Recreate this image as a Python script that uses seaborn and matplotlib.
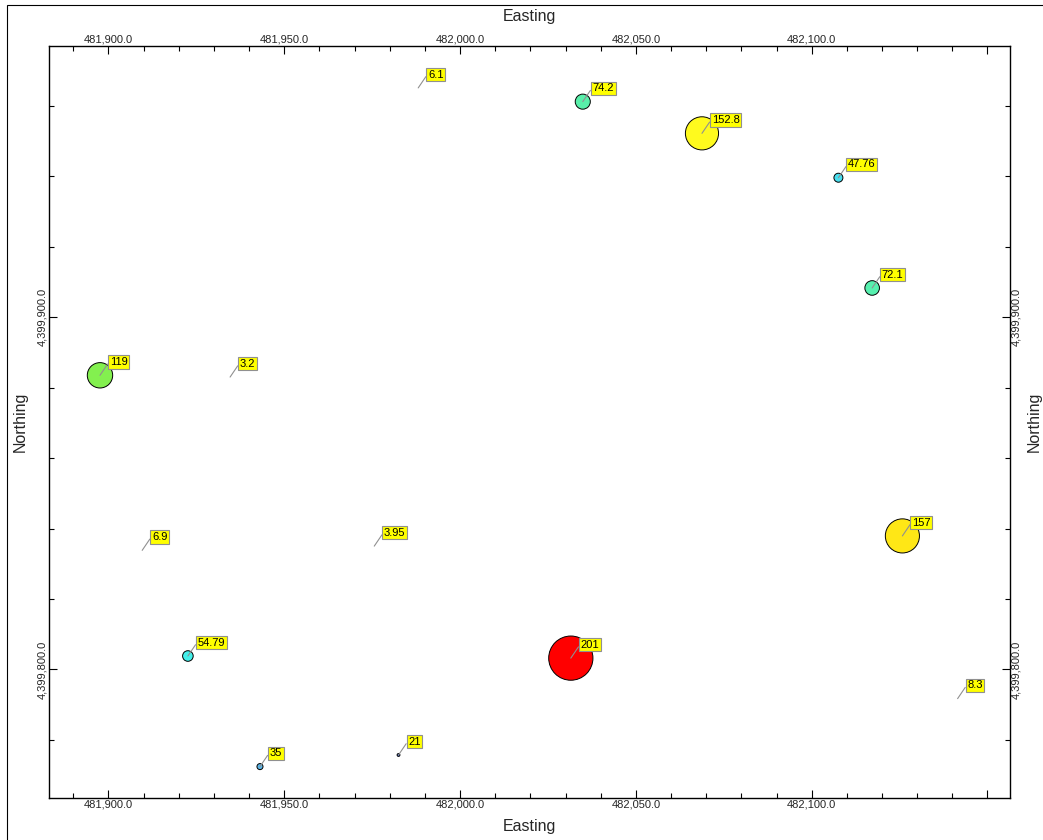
import numpy as np
import pandas as pd
import matplotlib
matplotlib.use("Agg")
import matplotlib.pyplot as plt
from matplotlib.colors import LinearSegmentedColormap
from matplotlib.patches import Rectangle
from matplotlib.ticker import MultipleLocator, FuncFormatter
import seaborn as sns

# sample locations (m) and measured values
easting = [481988.1, 482034.9, 482068.8, 482107.6, 482117.2, 481897.6, 481934.6, 481909.6,
           481975.6, 482125.8, 481922.6, 482031.5, 482141.5, 481943.1, 481982.5]
northing = [4399965.1, 4399961.2, 4399952.2, 4399939.6, 4399908.3, 4399883.5, 4399883.0, 4399833.8,
            4399835.0, 4399837.9, 4399803.8, 4399803.2, 4399791.7, 4399772.4, 4399775.7]
values = [6.1, 74.2, 152.8, 47.76, 72.1, 119, 3.2, 6.9,
          3.95, 157, 54.79, 201, 8.3, 35, 21]

x_range = (481883.1, 482156.4)
y_range = (4399763.4, 4399977.0)

DPI = 100
df = pd.DataFrame({"easting": easting, "northing": northing, "value": values})

# bubble radius grows linearly with the value (in pixels), seaborn wants marker area
radius_px = np.clip(0.115 * df["value"] - 1.0, 0, None)
df["area"] = (2 * radius_px * 72 / DPI) ** 2

cmap = LinearSegmentedColormap.from_list("post", [
    (0.0, "#2838c8"), (0.12, "#4a78d0"), (0.16, "#5ab4e8"), (0.25, "#40f0f0"),
    (0.36, "#5af0a8"), (0.58, "#80f050"), (0.75, "#ffff20"), (0.85, "#ffb000"),
    (1.0, "#ff0000")])

sns.set_style("white")
plt.rcParams["font.family"] = ["Liberation Sans", "DejaVu Sans"]

fig = plt.figure(figsize=(10.43, 8.40), dpi=DPI)
ax = fig.add_axes([49 / 1043, 1 - 798.3 / 840, 961 / 1043, 752.3 / 840])

dots = df[df["area"] > 0]
sns.scatterplot(data=dots, x="easting", y="northing", hue="value", palette=cmap,
                hue_norm=(min(values), max(values)), size="area",
                sizes=(dots["area"].min(), dots["area"].max()),
                size_norm=(dots["area"].min(), dots["area"].max()),
                edgecolor="black", linewidth=0.7, legend=False, ax=ax)

# value labels in yellow boxes with a grey leader line
for _, row in df.iterrows():
    ax.annotate(f"{row['value']:g}", xy=(row["easting"], row["northing"]),
                xytext=(9.7, 13.3), textcoords="offset pixels",
                ha="left", va="center", fontsize=8, color="black",
                bbox=dict(boxstyle="square,pad=0.15", fc="#ffff00", ec="#909090", lw=0.8),
                arrowprops=dict(arrowstyle="-", color="#909090", lw=0.8,
                                shrinkA=0, shrinkB=0, relpos=(0, 0.6)))

ax.set_xlim(*x_range)
ax.set_ylim(*y_range)


def east_fmt(v, pos):
    # the last major easting tick sits too close to the corner to carry a label
    if v > 482140:
        return ""
    return f"{v:,.1f}"


ax.xaxis.set_major_locator(MultipleLocator(50))
ax.xaxis.set_minor_locator(MultipleLocator(10))
ax.yaxis.set_major_locator(MultipleLocator(100))
ax.yaxis.set_minor_locator(MultipleLocator(20))
ax.xaxis.set_major_formatter(FuncFormatter(east_fmt))
ax.yaxis.set_major_formatter(FuncFormatter(lambda v, p: f"{v:,.1f}"))

ax.tick_params(which="both", direction="in", top=True, right=True, bottom=True, left=True,
               labeltop=True, labelright=True, width=0.8, color="black")
ax.tick_params(which="major", length=5.8, labelsize=8, pad=1)
ax.tick_params(which="minor", length=3.6)
ax.tick_params(axis="y", labelrotation=90)
for lab in ax.get_yticklabels():
    lab.set_va("center")

for sp in ax.spines.values():
    sp.set_linewidth(1.0)
    sp.set_color("black")

ax.set_xlabel("Easting", fontsize=11.5, labelpad=7)
ax.set_ylabel("Northing", fontsize=11.5, labelpad=7)
fig.text(0.5 * (49 + 1010) / 1043, 1 - 16 / 840, "Easting", fontsize=11.5,
         ha="center", va="center")
fig.text(1034 / 1043, 1 - 422 / 840, "Northing", fontsize=11.5, rotation=90,
         ha="center", va="center")

# outer frame of the map sheet
fig.add_artist(Rectangle((6.5 / 1043, -1), 2, 2 - 4.5 / 840, transform=fig.transFigure,
                         fill=False, ec="black", lw=0.8))

fig.savefig("out.png", dpi=DPI, facecolor="white")
